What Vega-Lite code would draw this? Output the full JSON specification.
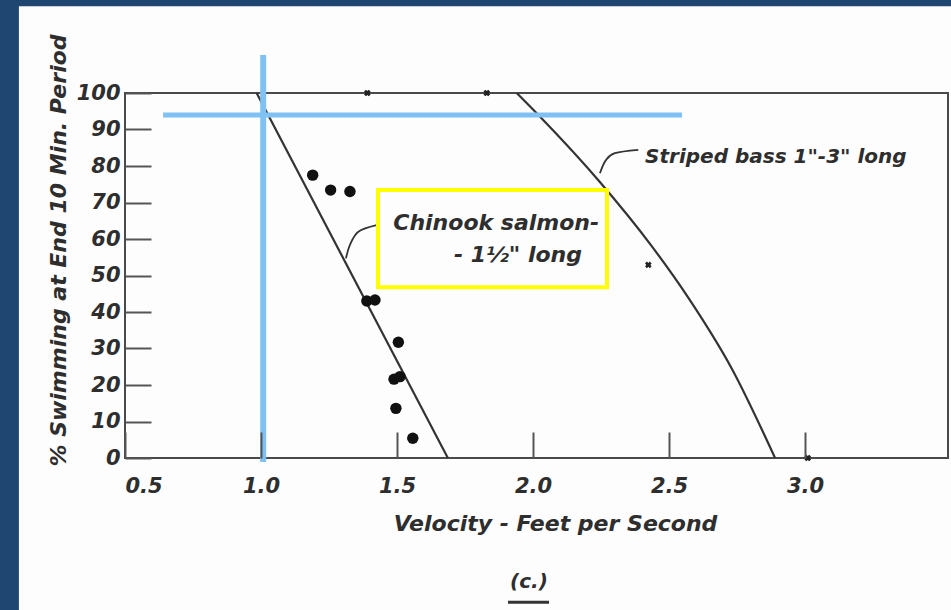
{
  "$schema": "https://vega.github.io/schema/vega-lite/v6.json",
  "width": 823,
  "height": 365,
  "autosize": {"type": "none"},
  "padding": {"left": 125, "top": 93, "right": 3, "bottom": 152},
  "background": "#1f4670",
  "config": {
    "view": {"stroke": null},
    "axis": {
      "domain": false,
      "grid": false,
      "labelFont": "DejaVu Sans",
      "labelFontStyle": "italic",
      "labelFontWeight": "bold",
      "labelColor": "#2e2e2e",
      "labelFontSize": 21,
      "titleFont": "DejaVu Sans",
      "titleFontStyle": "italic",
      "titleFontWeight": "bold",
      "titleColor": "#2e2e2e",
      "titleFontSize": 22,
      "tickColor": "#555555",
      "tickWidth": 2,
      "tickSize": -26
    },
    "text": {"font": "DejaVu Sans", "fontStyle": "italic", "fontWeight": "bold", "fontSize": 18, "color": "#2e2e2e"}
  },
  "datasets": {
    "paper": [{"v": 0.11, "v2": 3.7, "p": 123.8, "p2": -50}],
    "frame": [{"v": 0.5, "v2": 3.5257, "p": 0, "p2": 100}],
    "salmon": [
      {"v": 1.19, "p": 77.5}, {"v": 1.256, "p": 73.4}, {"v": 1.327, "p": 73.0},
      {"v": 1.389, "p": 43.0}, {"v": 1.419, "p": 43.3}, {"v": 1.505, "p": 31.7},
      {"v": 1.489, "p": 21.6}, {"v": 1.511, "p": 22.3}, {"v": 1.496, "p": 13.6},
      {"v": 1.558, "p": 5.4}
    ],
    "salmonLine": [{"v": 0.984, "p": 100}, {"v": 1.687, "p": 0}],
    "bassLine": [
      {"v": 1.94, "p": 100}, {"v": 2.026, "p": 93.5}, {"v": 2.245, "p": 75.7},
      {"v": 2.433, "p": 58.4}, {"v": 2.572, "p": 43.8}, {"v": 2.73, "p": 24.6},
      {"v": 2.89, "p": 0}
    ],
    "bassPts": [{"v": 1.391, "p": 100}, {"v": 1.83, "p": 100}, {"v": 2.424, "p": 52.9}, {"v": 3.01, "p": 0}],
    "leaders": [
      {"id": "a", "v": 1.3125, "p": 54.7}, {"id": "a", "v": 1.327, "p": 58.4},
      {"id": "a", "v": 1.358, "p": 62.0}, {"id": "a", "v": 1.425, "p": 63.8},
      {"id": "b", "v": 2.246, "p": 78.0}, {"id": "b", "v": 2.268, "p": 81.6},
      {"id": "b", "v": 2.301, "p": 83.5}, {"id": "b", "v": 2.387, "p": 84.4}
    ],
    "labelsRight": [
      {"v": 2.243, "p": 64.4, "t": "Chinook  salmon-"},
      {"v": 2.18, "p": 55.6, "t": "- 1½\" long"}
    ],
    "labelsLeft": [{"v": 2.412, "p": 82.5, "t": "Striped bass 1\"-3\" long"}],
    "box": [{"v": 1.43, "v2": 2.272, "p": 73.4, "p2": 46.8}],
    "vrule": [{"v": 1.008, "p": 110.4, "p2": -1.1}],
    "hrule": [{"p": 94.0, "v": 0.64, "v2": 2.548}],
    "caption": [{"v": 1.985, "p": -34, "t": "(c.)"}],
    "underline": [{"v": 1.908, "v2": 2.059, "p": -39.5}]
  },
  "layer": [
    {
      "data": {"name": "paper"},
      "mark": {"type": "rect", "color": "#fdfdfd", "clip": false},
      "encoding": {
        "x": {"field": "v", "type": "quantitative",
          "scale": {"domain": [0.5, 3.5257], "nice": false, "zero": false},
          "axis": {"zindex": 2, "title": "Velocity - Feet per Second", "values": [0.5, 1, 1.5, 2, 2.5, 3], "format": ".1f",
            "labelOverlap": false, "labelPadding": 43, "titleX": 430, "titleY": 65, "titleBaseline": "middle"}},
        "x2": {"field": "v2"},
        "y": {"field": "p", "type": "quantitative",
          "scale": {"domain": [0, 100], "nice": false, "zero": false},
          "axis": {"zindex": 2, "title": "% Swimming at End 10 Min. Period", "values": [0, 10, 20, 30, 40, 50, 60, 70, 80, 90, 100],
            "tickCount": 11, "labelOverlap": false, "labelBound": false, "labelPadding": 31, "titleX": -67, "titleY": 157, "titleAngle": -90, "titleBaseline": "middle", "titleAlign": "center"}},
        "y2": {"field": "p2"}
      }
    },
    {
      "data": {"name": "frame"},
      "mark": {"type": "rect", "fill": null, "stroke": "#4a4a4a", "strokeWidth": 2},
      "encoding": {
        "x": {"field": "v", "type": "quantitative"},
        "x2": {"field": "v2"},
        "y": {"field": "p", "type": "quantitative"},
        "y2": {"field": "p2"}
      }
    },
    {
      "data": {"name": "salmonLine"},
      "mark": {"type": "line", "color": "#333333", "strokeWidth": 2.2},
      "encoding": {
        "x": {"field": "v", "type": "quantitative"},
        "y": {"field": "p", "type": "quantitative"}
      }
    },
    {
      "data": {"name": "bassLine"},
      "mark": {"type": "line", "color": "#333333", "strokeWidth": 2.2, "interpolate": "monotone"},
      "encoding": {
        "x": {"field": "v", "type": "quantitative"},
        "y": {"field": "p", "type": "quantitative"}
      }
    },
    {
      "data": {"name": "leaders"},
      "mark": {"type": "line", "color": "#333333", "strokeWidth": 1.8, "interpolate": "cardinal"},
      "encoding": {
        "x": {"field": "v", "type": "quantitative"},
        "y": {"field": "p", "type": "quantitative"},
        "detail": {"field": "id"}
      }
    },
    {
      "data": {"name": "salmon"},
      "mark": {"type": "point", "shape": "circle", "filled": true, "color": "#111111", "size": 130, "opacity": 1},
      "encoding": {
        "x": {"field": "v", "type": "quantitative"},
        "y": {"field": "p", "type": "quantitative"}
      }
    },
    {
      "data": {"name": "bassPts"},
      "mark": {"type": "point", "shape": "cross", "angle": 45, "filled": true, "color": "#222222", "size": 45, "opacity": 1},
      "encoding": {
        "x": {"field": "v", "type": "quantitative"},
        "y": {"field": "p", "type": "quantitative"}
      }
    },
    {
      "data": {"name": "labelsRight"},
      "mark": {"type": "text", "align": "right", "baseline": "middle", "fontSize": 22},
      "encoding": {
        "x": {"field": "v", "type": "quantitative"},
        "y": {"field": "p", "type": "quantitative"},
        "text": {"field": "t"}
      }
    },
    {
      "data": {"name": "labelsLeft"},
      "mark": {"type": "text", "align": "left", "baseline": "middle", "fontSize": 20},
      "encoding": {
        "x": {"field": "v", "type": "quantitative"},
        "y": {"field": "p", "type": "quantitative"},
        "text": {"field": "t"}
      }
    },
    {
      "data": {"name": "box"},
      "mark": {"type": "rect", "fill": null, "stroke": "#ffff00", "strokeWidth": 4},
      "encoding": {
        "x": {"field": "v", "type": "quantitative"},
        "x2": {"field": "v2"},
        "y": {"field": "p", "type": "quantitative"},
        "y2": {"field": "p2"}
      }
    },
    {
      "data": {"name": "vrule"},
      "mark": {"type": "rule", "color": "#80c1f4", "strokeWidth": 6, "clip": false},
      "encoding": {
        "x": {"field": "v", "type": "quantitative"},
        "y": {"field": "p", "type": "quantitative"},
        "y2": {"field": "p2"}
      }
    },
    {
      "data": {"name": "hrule"},
      "mark": {"type": "rule", "color": "#80c1f4", "strokeWidth": 5},
      "encoding": {
        "x": {"field": "v", "type": "quantitative"},
        "x2": {"field": "v2"},
        "y": {"field": "p", "type": "quantitative"}
      }
    },
    {
      "data": {"name": "caption"},
      "mark": {"type": "text", "align": "center", "baseline": "middle", "fontSize": 20},
      "encoding": {
        "x": {"field": "v", "type": "quantitative"},
        "y": {"field": "p", "type": "quantitative"},
        "text": {"field": "t"}
      }
    },
    {
      "data": {"name": "underline"},
      "mark": {"type": "rule", "color": "#333333", "strokeWidth": 3},
      "encoding": {
        "x": {"field": "v", "type": "quantitative"},
        "x2": {"field": "v2"},
        "y": {"field": "p", "type": "quantitative"}
      }
    }
  ]
}
